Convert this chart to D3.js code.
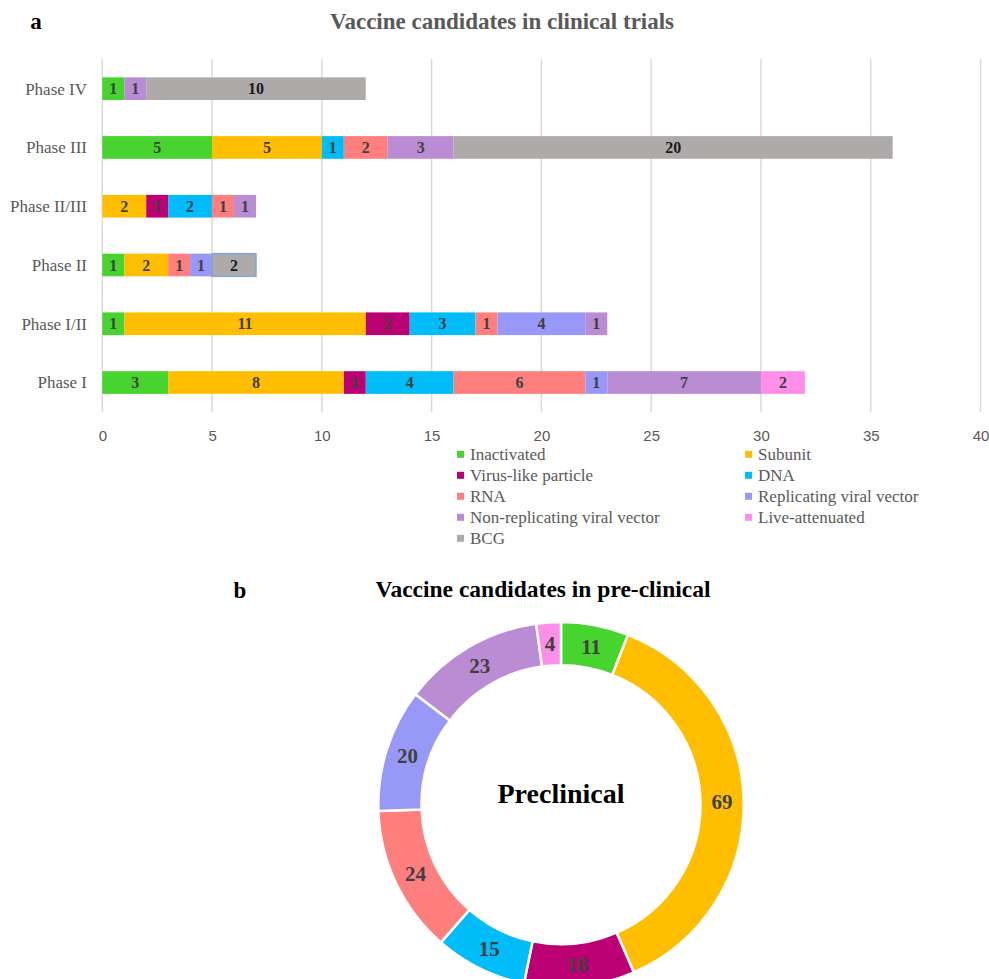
<!DOCTYPE html>
<html>
<head>
<meta charset="utf-8">
<script src="https://cdn.jsdelivr.net/npm/d3@7"></script>
<style>
  html, body { margin: 0; padding: 0; background: #fff; }
  svg { display: block; }
</style>
</head>
<body>
<svg id="chart" width="989" height="979"></svg>
<script>
// ---------- DATA ----------
const phases = ["Phase IV", "Phase III", "Phase II/III", "Phase II", "Phase I/II", "Phase I"];
const vaccineTypes = ["Inactivated", "Subunit", "Virus-like particle", "DNA", "RNA",
  "Replicating viral vector", "Non-replicating viral vector", "Live-attenuated", "BCG"];
// values per phase, in the order of `phases`
const inactivated    = [1, 5, 0, 1, 1, 3];
const subunit        = [0, 5, 2, 2, 11, 8];
const virusLike      = [0, 0, 1, 0, 2, 1];
const dna            = [0, 1, 2, 0, 3, 4];
const rna            = [0, 2, 1, 1, 1, 6];
const replicating    = [0, 0, 0, 1, 4, 1];
const nonReplicating = [1, 3, 1, 0, 1, 7];
const liveAttenuated = [0, 0, 0, 0, 0, 2];
const bcg            = [10, 20, 0, 2, 0, 0];
const xTickValues = [0, 5, 10, 15, 20, 25, 30, 35, 40];
// pre-clinical counts (no BCG)
const preclinicalTypes = ["Inactivated", "Subunit", "Virus-like particle", "DNA", "RNA",
  "Replicating viral vector", "Non-replicating viral vector", "Live-attenuated"];
const preclinicalCounts = [11, 69, 18, 15, 24, 20, 23, 4];
const outlinedCell = { phase: "Phase II", type: "BCG" };

// ---------- STYLE ----------
const colors = {
  "Inactivated": "#48d42e",
  "Subunit": "#ffbf00",
  "Virus-like particle": "#bb0073",
  "DNA": "#00bcf8",
  "RNA": "#ff7f7f",
  "Replicating viral vector": "#9898f8",
  "Non-replicating viral vector": "#b98cd3",
  "Live-attenuated": "#ff8ee8",
  "BCG": "#aeaaaa"
};
const serif = "'Liberation Serif', 'Times New Roman', serif";
const sans = "'Liberation Sans', Arial, sans-serif";

const svg = d3.select("#chart");

// ---------- PANEL A: stacked bars ----------
const seriesByType = {
  "Inactivated": inactivated, "Subunit": subunit, "Virus-like particle": virusLike,
  "DNA": dna, "RNA": rna, "Replicating viral vector": replicating,
  "Non-replicating viral vector": nonReplicating, "Live-attenuated": liveAttenuated, "BCG": bcg
};
const rows = phases.map((p, i) => {
  const r = { phase: p };
  vaccineTypes.forEach(t => r[t] = seriesByType[t][i]);
  return r;
});
const stacked = d3.stack().keys(vaccineTypes)(rows);

const x = d3.scaleLinear().domain([0, 40]).range([102.3, 980.5]);
const y = d3.scaleBand().domain(phases).range([59.3, 411.9]).paddingInner(0.614).paddingOuter(0.307);

const gA = svg.append("g");

// gridlines
gA.append("g").selectAll("line").data(xTickValues).join("line")
  .attr("x1", d => x(d)).attr("x2", d => x(d))
  .attr("y1", y.range()[0]).attr("y2", y.range()[1])
  .attr("stroke", "#d9d9d9").attr("stroke-width", 1.5);

// x axis
const xAxis = gA.append("g").attr("transform", "translate(0,436)")
  .call(d3.axisBottom(x).tickValues(xTickValues).tickSize(0).tickPadding(0));
xAxis.select(".domain").remove();
xAxis.selectAll("text").attr("dy", "0.35em").attr("fill", "#595959")
  .style("font-family", sans).style("font-size", "15px");

// y axis labels
const yAxis = gA.append("g").attr("transform", "translate(87,0)")
  .call(d3.axisLeft(y).tickSize(0).tickPadding(0));
yAxis.select(".domain").remove();
yAxis.selectAll("text").attr("fill", "#595959").attr("dy", "0.35em")
  .style("font-family", serif).style("font-size", "17px");

// bars
const layer = gA.append("g").selectAll("g").data(stacked).join("g")
  .attr("fill", d => colors[d.key]);
layer.selectAll("rect").data(d => d.map(v => ({ key: d.key, v }))).join("rect")
  .filter(d => d.v[1] - d.v[0] > 0)
  .attr("x", d => x(d.v[0]))
  .attr("y", d => y(d.v.data.phase))
  .attr("width", d => x(d.v[1]) - x(d.v[0]))
  .attr("height", y.bandwidth())
  .attr("stroke", d => (d.key === outlinedCell.type && d.v.data.phase === outlinedCell.phase) ? "#7ea6d8" : "none")
  .attr("stroke-width", 1.5);

// bar labels
layer.selectAll("text").data(d => d.map(v => ({ key: d.key, v }))).join("text")
  .filter(d => d.v[1] - d.v[0] > 0)
  .attr("x", d => (x(d.v[0]) + x(d.v[1])) / 2)
  .attr("y", d => y(d.v.data.phase) + y.bandwidth() / 2)
  .attr("dy", "0.35em")
  .attr("text-anchor", "middle")
  .attr("fill", d => d.key === "BCG" ? "#1a1a1a" : "#404040")
  .style("font-family", serif).style("font-weight", "bold").style("font-size", "16px")
  .text(d => d.v[1] - d.v[0]);

// title + panel letter
svg.append("text").attr("x", 502).attr("y", 29).attr("text-anchor", "middle")
  .attr("fill", "#595959").style("font-family", serif).style("font-weight", "bold").style("font-size", "23px")
  .text("Vaccine candidates in clinical trials");
svg.append("text").attr("x", 36).attr("y", 29).attr("text-anchor", "middle")
  .attr("fill", "#000").style("font-family", serif).style("font-weight", "bold").style("font-size", "23px")
  .text("a");

// legend
const legend = svg.append("g");
const legItems = legend.selectAll("g").data(vaccineTypes).join("g")
  .attr("transform", (d, i) => `translate(${i % 2 === 0 ? 457 : 745},${454.3 + Math.floor(i / 2) * 21})`);
legItems.append("rect").attr("x", 0).attr("y", -3.5).attr("width", 7).attr("height", 7)
  .attr("fill", d => colors[d]);
legItems.append("text").attr("x", 13).attr("y", 0).attr("dy", "0.35em")
  .attr("fill", "#595959").style("font-family", serif).style("font-size", "17px")
  .text(d => d);

// ---------- PANEL B: donut ----------
const cx = 561, cy = 804.7, rOuter = 182.7, rInner = 139.5;
const pie = d3.pie().sort(null).value(d => d.count);
const arcs = pie(preclinicalTypes.map((t, i) => ({ type: t, count: preclinicalCounts[i] })));
const arc = d3.arc().innerRadius(rInner).outerRadius(rOuter);
const labelArc = d3.arc().innerRadius((rInner + rOuter) / 2).outerRadius((rInner + rOuter) / 2);

const gB = svg.append("g").attr("transform", `translate(${cx},${cy})`);
gB.selectAll("path").data(arcs).join("path")
  .attr("d", arc)
  .attr("fill", d => colors[d.data.type])
  .attr("stroke", "#fff").attr("stroke-width", 2.5);
gB.selectAll("text.val").data(arcs).join("text").attr("class", "val")
  .attr("transform", d => `translate(${labelArc.centroid(d)})`)
  .attr("dy", "0.35em").attr("text-anchor", "middle")
  .attr("fill", "#404040").style("font-family", serif).style("font-weight", "bold").style("font-size", "21px")
  .text(d => d.data.count);
gB.append("text").attr("x", 0).attr("y", -12).attr("dy", "0.35em").attr("text-anchor", "middle")
  .attr("fill", "#000").style("font-family", serif).style("font-weight", "bold").style("font-size", "28px")
  .text("Preclinical");

svg.append("text").attr("x", 543).attr("y", 597).attr("text-anchor", "middle")
  .attr("fill", "#000").style("font-family", serif).style("font-weight", "bold").style("font-size", "23.5px")
  .text("Vaccine candidates in pre-clinical");
svg.append("text").attr("x", 240).attr("y", 598).attr("text-anchor", "middle")
  .attr("fill", "#000").style("font-family", serif).style("font-weight", "bold").style("font-size", "23px")
  .text("b");
</script>
</body>
</html>
